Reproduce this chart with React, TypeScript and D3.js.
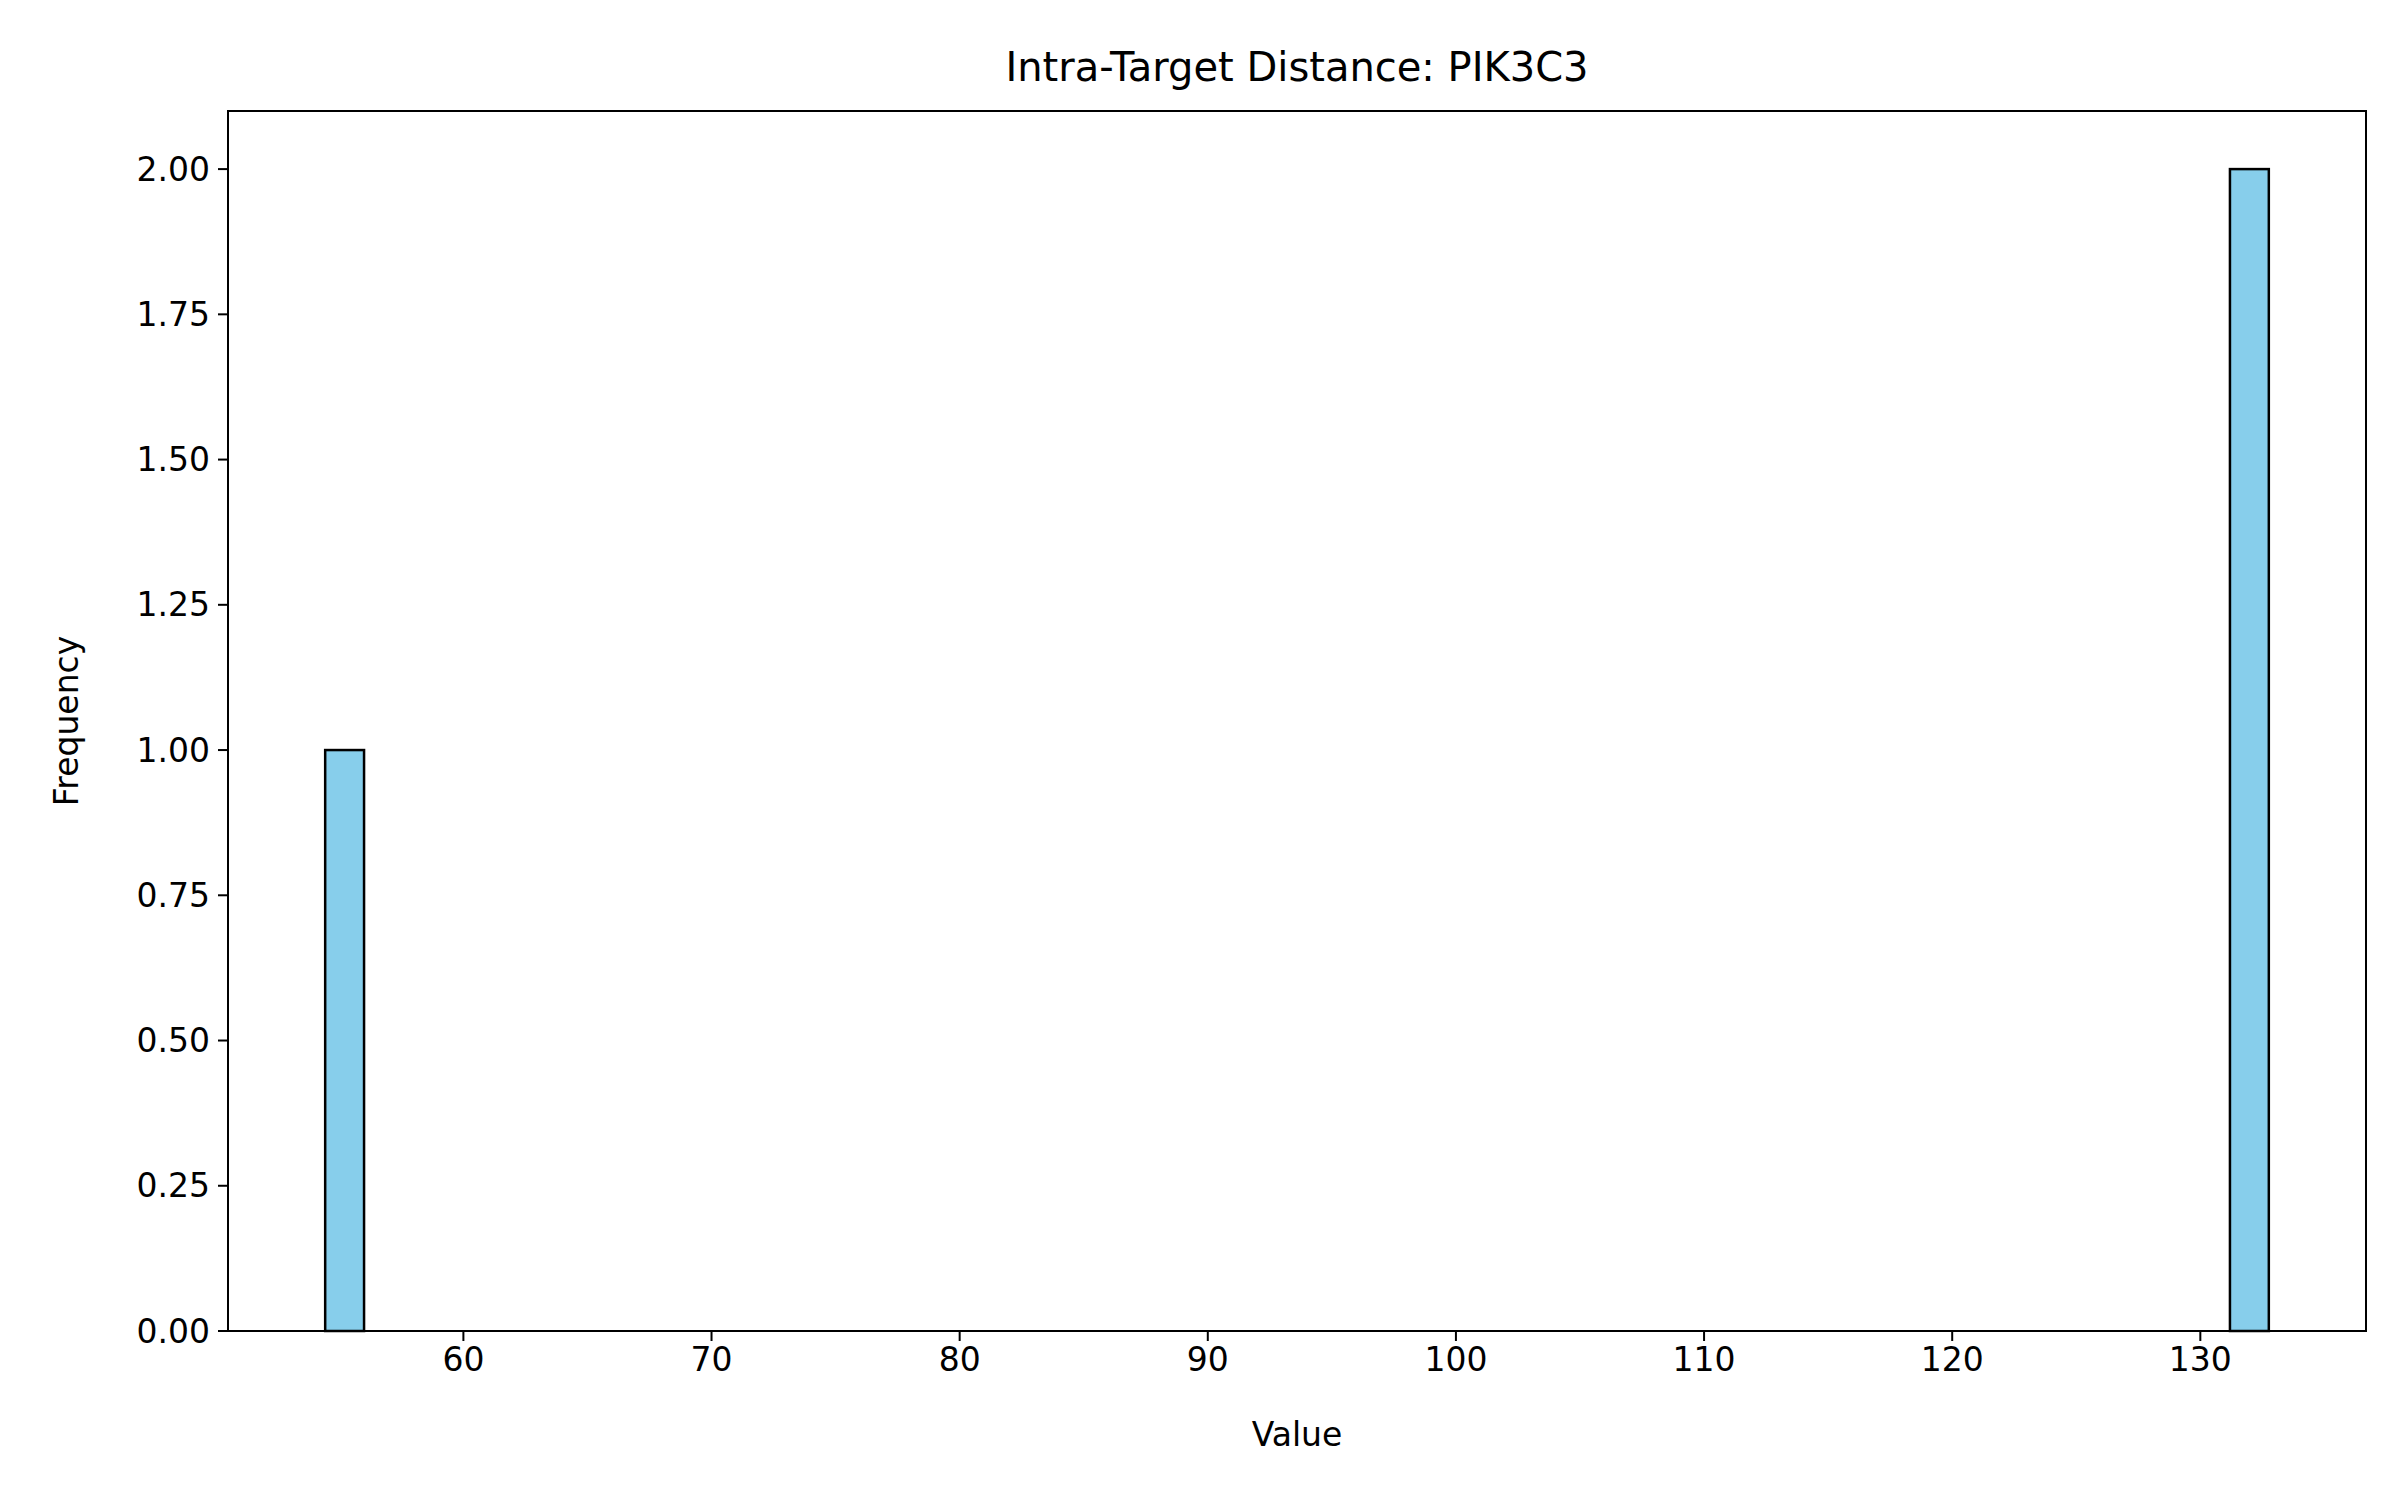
import React from 'react';
import * as d3 from 'd3';

const values = [54.43, 132.0, 132.76];
const binCount = 50;
const xTicks = [60, 70, 80, 90, 100, 110, 120, 130];
const yTicks = [0, 0.25, 0.5, 0.75, 1.0, 1.25, 1.5, 1.75, 2.0];

const W = 2400, H = 1500;
const m = { left: 228, right: 2366, top: 111, bottom: 1331 };

export default function App() {
  const [lo, hi] = d3.extent(values) as [number, number];
  const step = (hi - lo) / binCount;
  const thresholds = d3.range(1, binCount).map(i => lo + i * step);
  const bins = d3.bin().domain([lo, hi]).thresholds(thresholds)(values);
  const pad = (hi - lo) * 0.05;
  const x = d3.scaleLinear().domain([lo - pad, hi + pad]).range([m.left, m.right]);
  const maxC = d3.max(bins, b => b.length) || 1;
  const y = d3.scaleLinear().domain([0, maxC * 1.05]).range([m.bottom, m.top]);
  const font = 'DejaVu Sans, sans-serif';

  return (
    <svg width={W} height={H} style={{ display: 'block', margin: -8 }} fontFamily={font}>
      <rect width={W} height={H} fill="#fff" />
      {bins.filter(b => b.length > 0).map((b, i) => (
        <rect key={i} x={x(b.x0!)} y={y(b.length)} width={x(b.x1!) - x(b.x0!)}
          height={y(0) - y(b.length)} fill="#87ceeb" stroke="#000" strokeWidth={2.5} />
      ))}
      <rect x={m.left} y={m.top} width={m.right - m.left} height={m.bottom - m.top}
        fill="none" stroke="#000" strokeWidth={2} />
      {xTicks.map(t => (
        <g key={t} transform={`translate(${x(t)},${m.bottom})`}>
          <line y2={10} stroke="#000" strokeWidth={2} />
          <text y={40} textAnchor="middle" fontSize={33}>{t}</text>
        </g>
      ))}
      {yTicks.map(t => (
        <g key={t} transform={`translate(${m.left},${y(t)})`}>
          <line x2={-10} stroke="#000" strokeWidth={2} />
          <text x={-18} dy="0.35em" textAnchor="end" fontSize={33}>{t.toFixed(2)}</text>
        </g>
      ))}
      <text x={(m.left + m.right) / 2} y={1446} textAnchor="middle" fontSize={33}>Value</text>
      <text transform={`translate(78,${(m.top + m.bottom) / 2}) rotate(-90)`} textAnchor="middle" fontSize={33}>Frequency</text>
      <text x={(m.left + m.right) / 2} y={81} textAnchor="middle" fontSize={40}>Intra-Target Distance: PIK3C3</text>
    </svg>
  );
}
